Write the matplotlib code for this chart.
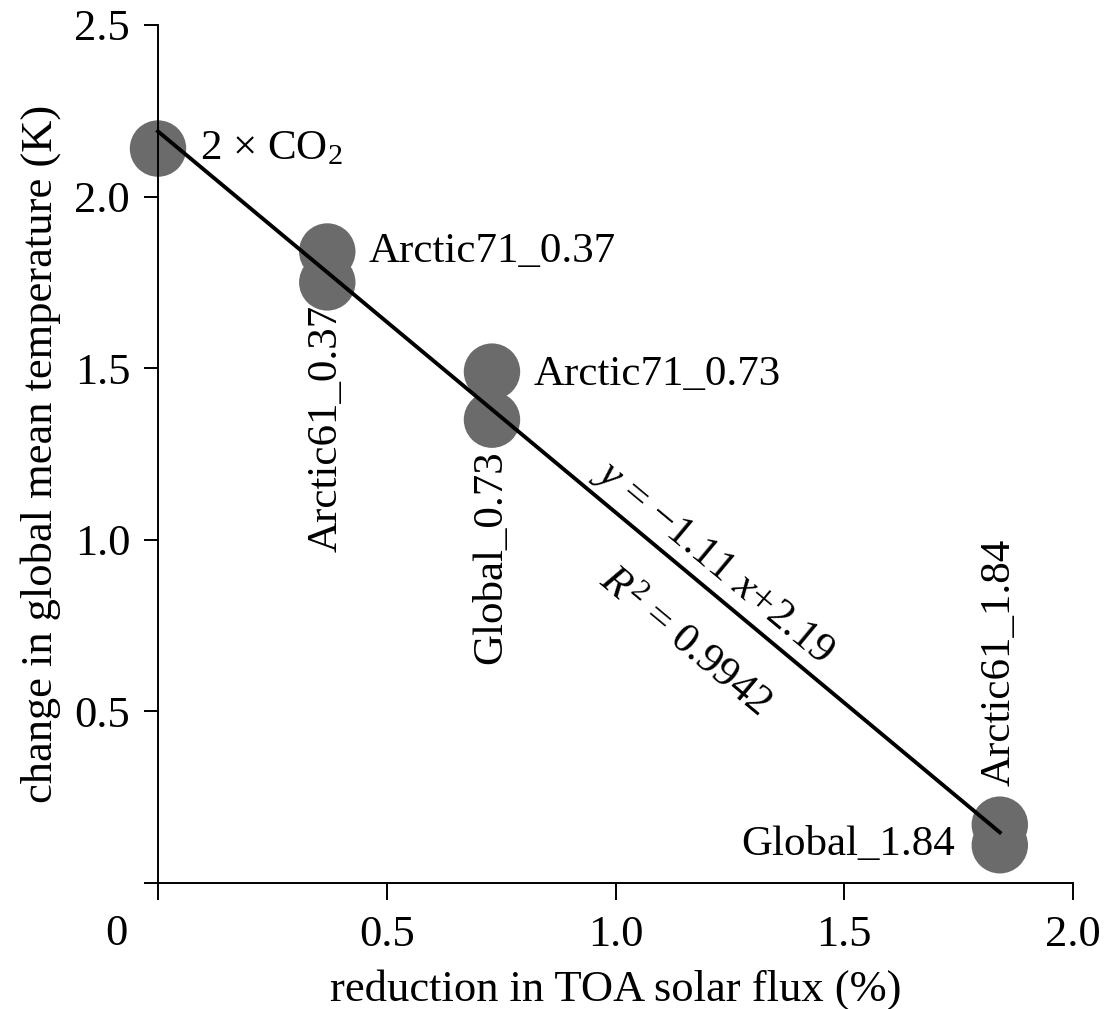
import matplotlib
matplotlib.use("Agg")
import matplotlib.pyplot as plt
import numpy as np

plt.rcParams["font.family"] = ["Liberation Serif", "DejaVu Serif"]
plt.rcParams["mathtext.fontset"] = "custom"
plt.rcParams["mathtext.rm"] = "Liberation Serif"
plt.rcParams["mathtext.it"] = "Liberation Serif:italic"

# Simulations: TOA solar flux reduction (%) vs global mean warming (K)
labels = ["2 × CO$_2$", "Arctic71_0.37", "Arctic61_0.37", "Arctic71_0.73",
          "Global_0.73", "Arctic61_1.84", "Global_1.84"]
flux_reduction = [0.0, 0.37, 0.37, 0.73, 0.73, 1.84, 1.84]
delta_t = [2.14, 1.84, 1.75, 1.49, 1.35, 0.17, 0.11]

# Linear fit reported on the chart
slope, intercept = -1.11, 2.19
r_squared = 0.9942
fit_x = [0.0, 1.84]

x_ticks = [0, 0.5, 1.0, 1.5, 2.0]
x_ticklabels = ["", "0.5", "1.0", "1.5", "2.0"]
y_ticks = [0, 0.5, 1.0, 1.5, 2.0, 2.5]
y_ticklabels = ["", "0.5", "1.0", "1.5", "2.0", "2.5"]

fig = plt.figure(figsize=(11.09, 10.09), dpi=100)
ax = fig.add_axes([158 / 1109, 1 - 883 / 1009, (1073 - 158) / 1109, (883 - 25) / 1009])

ax.scatter(flux_reduction, delta_t, s=1650, color="#6b6b6b", edgecolors="none",
           zorder=2, clip_on=False)
fx = np.array(fit_x)
ax.plot(fx, slope * fx + intercept, color="black", lw=2.8, zorder=3, clip_on=False)

ax.set_xlim(0, 2.0)
ax.set_ylim(0, 2.5)
ax.set_xticks(x_ticks)
ax.set_xticklabels(x_ticklabels)
ax.set_yticks(y_ticks)
ax.set_yticklabels(y_ticklabels)
for s in ("top", "right"):
    ax.spines[s].set_visible(False)
for s in ("left", "bottom"):
    ax.spines[s].set_linewidth(1.4)
ax.tick_params(axis="x", direction="out", length=12, width=1.4, pad=11, labelsize=32)
ax.tick_params(axis="y", direction="out", length=10, width=1.4, pad=10, labelsize=32)

# shared origin label
ax.annotate("0", xy=(0, 0), xytext=(-30, -37), textcoords="offset points",
            ha="center", va="center", fontsize=32, annotation_clip=False)

ax.set_xlabel("reduction in TOA solar flux (%)", fontsize=32, labelpad=10)
ax.set_ylabel("change in global mean temperature (K)", fontsize=32, labelpad=10)

fs = 31
off = dict(textcoords="offset points", fontsize=fs)
ax.annotate(labels[0], (flux_reduction[0], delta_t[0]), xytext=(30, 0), ha="left", va="center", **off)
ax.annotate(labels[1], (flux_reduction[1], delta_t[1]), xytext=(30, 0), ha="left", va="center", **off)
ax.annotate(labels[2], (flux_reduction[2], delta_t[2]), xytext=(-1, -16), ha="center", va="top", rotation=90, **off)
ax.annotate(labels[3], (flux_reduction[3], delta_t[3]), xytext=(30, -2), ha="left", va="center", **off)
ax.annotate(labels[4], (flux_reduction[4], delta_t[4]), xytext=(-1, -22), ha="center", va="top", rotation=90, **off)
ax.annotate(labels[5], (flux_reduction[5], delta_t[5]), xytext=(0, 28), ha="center", va="bottom", rotation=90, **off)
ax.annotate(labels[6], (flux_reduction[6], delta_t[6]), xytext=(-32, 0), ha="right", va="center", **off)

# Fit equation, rotated along the regression line
p0 = ax.transData.transform((0, intercept))
p1 = ax.transData.transform((1.84, slope * 1.84 + intercept))
angle = np.degrees(np.arctan2(p1[1] - p0[1], p1[0] - p0[0]))
ax.text(1.215, 0.935, r"$y$ = −1.11 $x$+2.19", rotation=angle, ha="center", va="center", fontsize=fs)
ax.text(1.15, 0.70, r"$R^2$ = 0.9942", rotation=angle, ha="center", va="center", fontsize=fs)

fig.savefig("out.png", dpi=100)
